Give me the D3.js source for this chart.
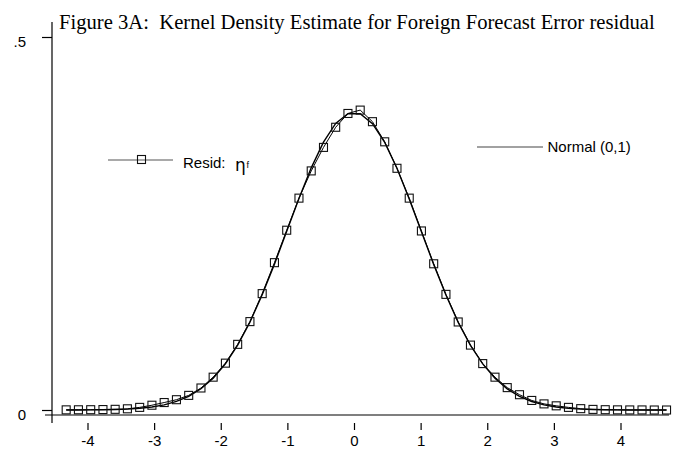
<!DOCTYPE html>
<html>
<head>
<meta charset="utf-8">
<script src="https://cdn.jsdelivr.net/npm/d3@7"></script>
<style>
  html, body { margin: 0; padding: 0; background: #fff; }
  svg { display: block; }
  text { font-family: "Liberation Sans", Arial, sans-serif; fill: #000; }
</style>
</head>
<body>
<svg id="chart" width="681" height="449"></svg>
<script>
// Evaluation grid of the kernel density estimate
const xGrid = [-4.320,-4.136,-3.952,-3.768,-3.585,-3.401,-3.217,-3.033,-2.849,-2.665,
  -2.481,-2.297,-2.114,-1.930,-1.746,-1.562,-1.378,-1.194,-1.010,-0.826,
  -0.642,-0.458,-0.275,-0.091,0.093,0.277,0.461,0.645,0.829,1.012,
  1.196,1.380,1.564,1.748,1.932,2.116,2.300,2.484,2.668,2.852,
  3.035,3.219,3.403,3.587,3.771,3.955,4.139,4.323,4.507,4.691];

// Kernel density of the residual
const residDensity = [0.0002,0.0003,0.0004,0.0006,0.0009,0.0016,0.0035,0.0064,0.0100,0.0138,
  0.0196,0.0295,0.0440,0.0628,0.0880,0.1185,0.1560,0.1975,0.2410,0.2840,
  0.3205,0.3520,0.3790,0.3975,0.4020,0.3865,0.3595,0.3240,0.2840,0.2400,
  0.1960,0.1550,0.1180,0.0870,0.0622,0.0440,0.0300,0.0205,0.0128,0.0082,
  0.0056,0.0035,0.0018,0.0008,0.0004,0.0002,0.0001,0.0001,0.0000,0.0000];

// Standard normal density on the same grid
const normalDensity = [0.00004,0.00008,0.00016,0.00033,0.00065,0.00123,0.00226,0.0040,0.0069,0.0115,
  0.0184,0.0285,0.0427,0.0620,0.0869,0.1178,0.1544,0.1955,0.2395,0.2836,
  0.3246,0.3591,0.3842,0.3973,0.3972,0.3839,0.3587,0.3240,0.2829,0.2391,
  0.1952,0.1541,0.1175,0.0866,0.0618,0.0425,0.0283,0.0182,0.0114,0.0068,
  0.0040,0.0022,0.0012,0.00065,0.00033,0.00016,0.00008,0.00004,0.00002,0.00001];

const xTicks = [-4,-3,-2,-1,0,1,2,3,4];
const yTicks = [0, 0.5];
const yTickLabels = ["0", ".5"];

const titleText = "Figure 3A:  Kernel Density Estimate for Foreign Forecast Error residual";
const residLabel = "Resid:";
const residSymbol = "\u03B7";
const residSub = "f";
const normalLabel = "Normal (0,1)";

const svg = d3.select("#chart");

const x = d3.scaleLinear().domain([-4, 4]).range([87.5, 620.5]);
const y = d3.scaleLinear().domain([0, 0.5]).range([410, 37]);

// Title
const title = svg.append("text")
  .attr("x", 59).attr("y", 29)
  .attr("xml:space", "preserve")
  .style("white-space", "pre")
  .style("font-family", "'Liberation Serif', 'Times New Roman', serif")
  .style("font-size", "18px")
  .text(titleText);
// size the title so it spans the plot width
const tw = title.node().getComputedTextLength();
title.style("font-size", (18 * 596 / tw).toFixed(2) + "px");

// X axis: baseline sits below the zero line, ticks hang beneath it
svg.append("line")
  .attr("x1", 45).attr("x2", 669)
  .attr("y1", 415).attr("y2", 415)
  .attr("stroke", "#000").attr("stroke-width", 1.2);

const xAxis = svg.append("g")
  .attr("transform", "translate(0,423)")
  .call(d3.axisBottom(x).tickValues(xTicks).tickSize(7).tickPadding(5)
    .tickFormat(d3.format("d")));
xAxis.select(".domain").remove();
xAxis.selectAll("line").attr("stroke", "#000").attr("stroke-width", 1.2);
xAxis.selectAll("text")
  .style("font-family", "'Liberation Sans', Arial, sans-serif")
  .style("font-size", "15px")
  .text(d => d < 0 ? "-" + Math.abs(d) : String(d));

// Y axis
svg.append("line")
  .attr("x1", 52).attr("x2", 52)
  .attr("y1", 22).attr("y2", 423)
  .attr("stroke", "#000").attr("stroke-width", 1.2);

const yAxis = svg.append("g")
  .attr("transform", "translate(52,0)")
  .call(d3.axisLeft(y).tickValues(yTicks).tickSize(10).tickPadding(16)
    .tickFormat((d, i) => yTickLabels[i]));
yAxis.select(".domain").remove();
yAxis.selectAll("line").attr("stroke", "#000").attr("stroke-width", 1.2);
yAxis.selectAll("text")
  .style("font-family", "'Liberation Sans', Arial, sans-serif")
  .style("font-size", "15px")
  .attr("dy", "0.6em");

// Curves
const residPts = xGrid.map((v, i) => [v, residDensity[i]]);
const normalPts = xGrid.map((v, i) => [v, normalDensity[i]]);
const line = d3.line().x(d => x(d[0])).y(d => y(d[1]));

svg.append("path")
  .datum(normalPts)
  .attr("d", line)
  .attr("fill", "none")
  .attr("stroke", "#000")
  .attr("stroke-width", 1.4);

svg.append("path")
  .datum(residPts)
  .attr("d", line)
  .attr("fill", "none")
  .attr("stroke", "#000")
  .attr("stroke-width", 1);

const sq = 8;
svg.append("g").selectAll("rect")
  .data(residPts)
  .join("rect")
  .attr("x", d => x(d[0]) - sq / 2)
  .attr("y", d => y(d[1]) - sq / 2)
  .attr("width", sq).attr("height", sq)
  .attr("fill", "none")
  .attr("stroke", "#111")
  .attr("stroke-width", 1.1);

// Legend: residual
const lg = svg.append("g");
lg.append("line")
  .attr("x1", 108).attr("x2", 173).attr("y1", 160).attr("y2", 160)
  .attr("stroke", "#555").attr("stroke-width", 1.2);
lg.append("rect")
  .attr("x", 141.5 - sq / 2).attr("y", 159.5 - sq / 2)
  .attr("width", sq).attr("height", sq)
  .attr("fill", "none").attr("stroke", "#111").attr("stroke-width", 1.1);
lg.append("text")
  .attr("x", 183).attr("y", 168)
  .style("font-size", "15px")
  .text(residLabel);
lg.append("text")
  .attr("x", 235).attr("y", 171)
  .style("font-family", "'DejaVu Sans', sans-serif")
  .style("font-size", "17px")
  .text(residSymbol);
lg.append("text")
  .attr("x", 246.5).attr("y", 168)
  .style("font-family", "'Liberation Sans', Arial, sans-serif")
  .style("font-size", "9px")
  .text(residSub);

// Legend: normal
lg.append("line")
  .attr("x1", 477).attr("x2", 543).attr("y1", 147).attr("y2", 147)
  .attr("stroke", "#444").attr("stroke-width", 1.2);
lg.append("text")
  .attr("x", 547.5).attr("y", 152)
  .style("font-size", "15px")
  .text(normalLabel);
</script>
</body>
</html>
